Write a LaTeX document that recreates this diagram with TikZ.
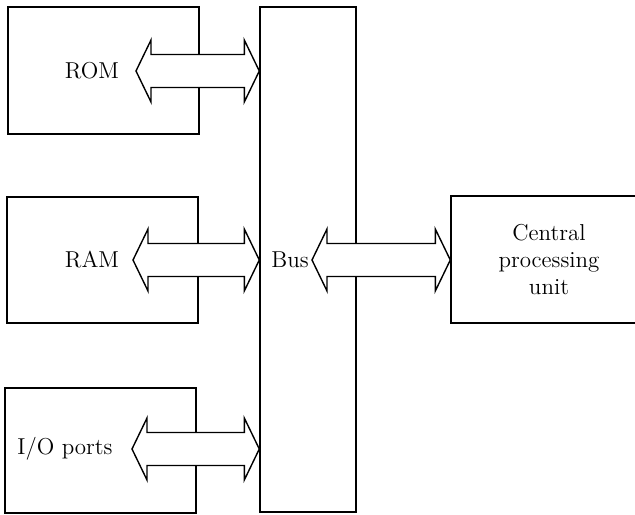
\documentclass[tikz,border=0pt]{standalone}
\usepackage{tikz}
\usetikzlibrary{calc}
\tikzset{
  blk/.style ={draw=black, line width=0.7pt, fill=white, inner sep=0pt},
  lab/.style ={font=\fontsize{11.5}{13.5}\selectfont, inner sep=1pt},
  barr/.style={draw=black, line width=0.7pt, fill=white, line join=miter},
}
\newcommand{\dblarrow}[2]{%
  \draw[barr] let \p1=(#1), \p2=(#2) in
    (\x1,\y1) -- (\x1+7.5pt,\y1+15.5pt) -- (\x1+7.5pt,\y1+8.25pt)
    -- (\x2-7.5pt,\y1+8.25pt) -- (\x2-7.5pt,\y1+15.5pt) -- (\x2,\y1)
    -- (\x2-7.5pt,\y1-15.5pt) -- (\x2-7.5pt,\y1-8.25pt)
    -- (\x1+7.5pt,\y1-8.25pt) -- (\x1+7.5pt,\y1-15.5pt) -- cycle;}
\begin{document}
\begin{tikzpicture}[x=0.5pt,y=-0.5pt]
  \clip (0,0) rectangle (635,514);
  \fill[white] (0,0) rectangle (635,514);
  % blocks
  \node[blk, minimum width=95.5pt, minimum height=63.5pt] (rom) at (103.5,70.5) {};
  \node[blk, minimum width=95.5pt, minimum height=63pt] (ram) at (102.5,260) {};
  \node[blk, minimum width=95.5pt, minimum height=62.5pt] (io) at (100.5,450.5) {};
  \node[blk, minimum width=48pt, minimum height=252.5pt] (bus) at (308,259.5) {};
  \node[blk, lab, align=center, minimum width=98pt, minimum height=63.5pt] (cpu) at (549,259.5) {Central\\processing\\unit};
  % labels
  \node[lab] (romtxt) at (92,71) {ROM};
  \node[lab] (ramtxt) at (92,260) {RAM};
  \node[lab] (iotxt) at (65,449) {I/O ports};
  \node[lab] (bustxt) at (290,260) {Bus};
  % arrow tips
  \coordinate (romtip) at (136,71);
  \coordinate (ramtip) at (133,260);
  \coordinate (iotip) at (132,449);
  \coordinate (bustip) at (312,260);
  \dblarrow{romtip}{romtip -| bus.west}
  \dblarrow{ramtip}{ramtip -| bus.west}
  \dblarrow{iotip}{iotip -| bus.west}
  \dblarrow{bustip}{bustip -| cpu.west}
\end{tikzpicture}
\end{document}
